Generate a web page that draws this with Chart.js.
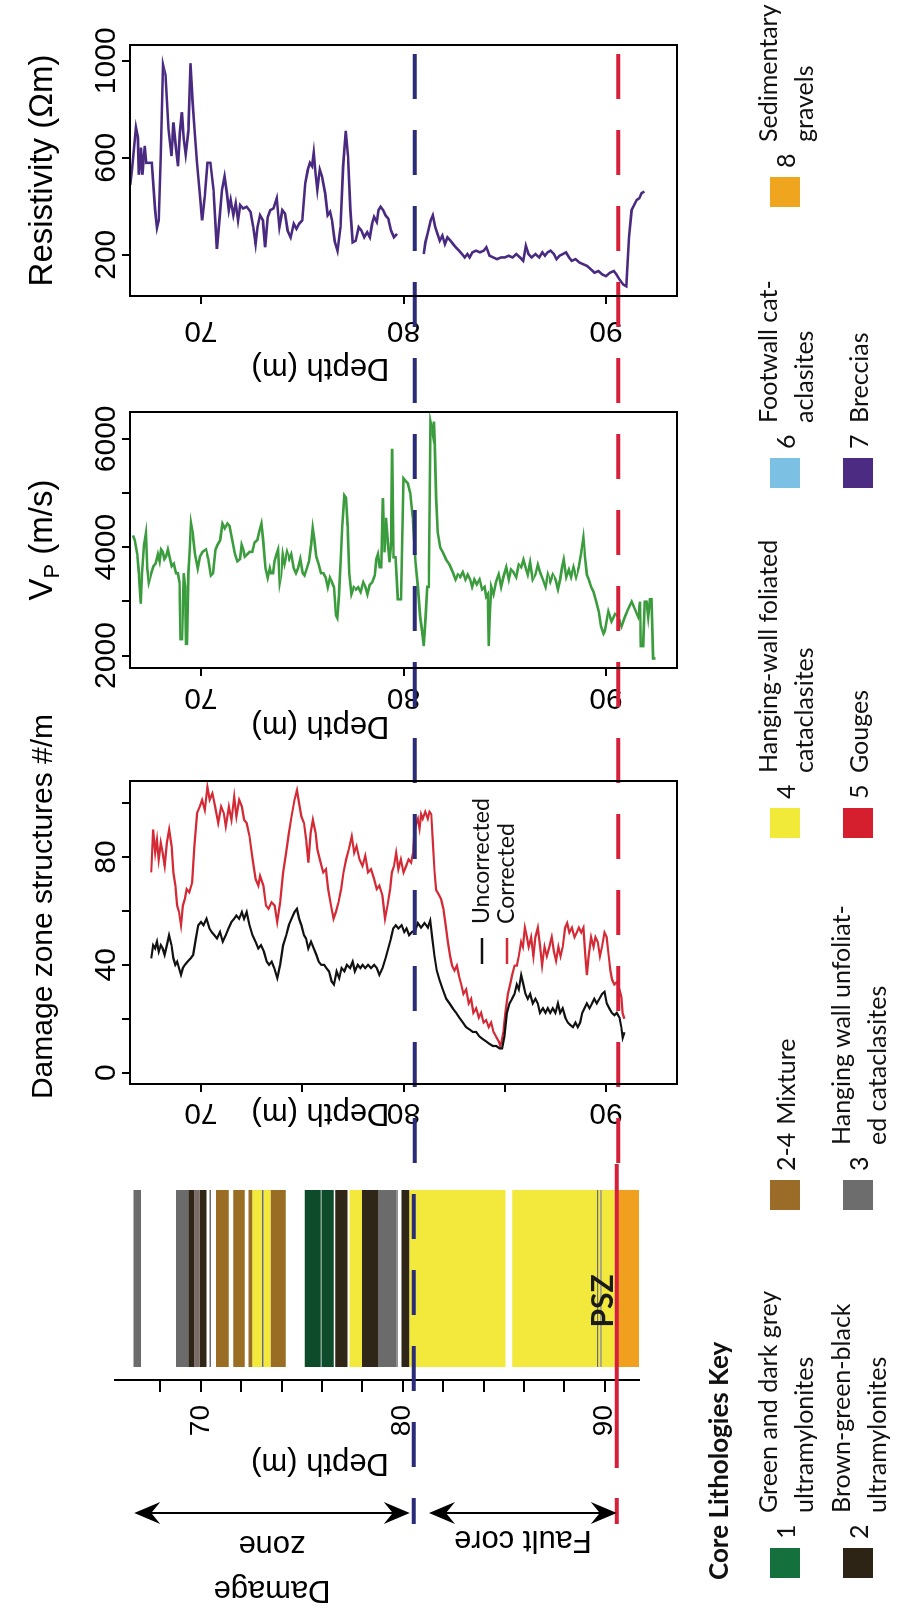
<!DOCTYPE html>
<html>
<head>
<meta charset="utf-8">
<title>Core logs</title>
<script src="https://cdn.jsdelivr.net/npm/chart.js@4.4.1/dist/chart.umd.min.js"></script>
<style>
    html, body { margin: 0; padding: 0; background: #fff; }
    body { width: 897px; height: 1619px; overflow: hidden; position: relative; }
    /* the figure is laid out as a landscape log plot and turned a quarter to the left */
    #fig { position: absolute; left: 0; top: 0; width: 1619px; height: 897px;
           transform-origin: 0 0; transform: translate(0, 1619px) rotate(-90deg); }
    #fig canvas { position: absolute; top: 0; }
    .key-title { position: absolute; font: bold 26px Lato, 'Noto Sans', sans-serif; color: #111; white-space: nowrap; }
    .key { position: absolute; height: 30px; display: flex; align-items: center;
           font: 25px Lato, 'Noto Sans', sans-serif; color: #111; white-space: nowrap; }
    .key .sw { width: 30px; height: 30px; flex: none; }
    .key .code { margin-left: 9px; min-width: 18px; }
    .key .txt { margin-left: 8px; line-height: 36px; }
</style>
</head>
<body>
<div id="fig"></div>
<script>
const boundaryDepths = [80.55, 90.6];
const boundaryColors = ['#2a2c78', '#d6203a'];

const resTicks = [200, 600, 1000];
const resLabels = [200, 600, 1000];
const vpTicks = [2000, 3000, 4000, 5000, 6000];
const vpLabels = [2000, 4000, 6000];
const dzTicks = [0, 20, 40, 60, 80, 100];
const dzLabels = [0, 40, 80];
const depthTicks = [70, 80, 90];
const dzDepthTicks = [70, 75, 80, 85, 90];
const coreDepthTicks = [68, 70, 72, 74, 76, 78, 80, 82, 84, 86, 88, 90];
const depthLabels = [70, 80, 90];

const resDepth = [66.51, 66.60, 66.79, 66.89, 66.94, 67.04, 67.11, 67.23, 67.30, 67.45,
    67.58, 67.74, 67.83, 67.92, 68.02, 68.13, 68.25, 68.40, 68.55, 68.64,
    68.74, 68.87, 68.96, 69.06, 69.15, 69.25, 69.38, 69.49, 69.58, 69.68,
    69.81, 69.94, 70.06, 70.19, 70.32, 70.47, 70.62, 70.79, 70.91, 71.04,
    71.17, 71.28, 71.38, 71.47, 71.60, 71.72, 71.83, 71.94, 72.08, 72.26,
    72.45, 72.58, 72.70, 72.79, 72.92, 73.06, 73.17, 73.30, 73.43, 73.58,
    73.74, 73.87, 74.02, 74.15, 74.28, 74.43, 74.58, 74.72, 74.85, 75.00,
    75.15, 75.28, 75.38, 75.49, 75.57, 75.66, 75.75, 75.87, 75.98, 76.13,
    76.26, 76.38, 76.47, 76.60, 76.74, 76.89, 77.02, 77.15, 77.26, 77.38,
    77.49, 77.64, 77.79, 77.92, 78.06, 78.21, 78.34, 78.45, 78.55, 78.68,
    78.77, 78.87, 79.00, 79.11, 79.25, 79.38, 79.53, 79.68, 80.30,
    81.00, 81.08, 81.19, 81.34, 81.45, 81.57, 81.68, 81.79, 81.92, 82.04,
    82.17, 82.32, 82.45, 82.58, 82.74, 82.89, 83.02, 83.15, 83.26, 83.40,
    83.58, 83.77, 83.96, 84.09, 84.25, 84.43, 84.62, 84.81, 85.00, 85.19,
    85.38, 85.57, 85.75, 85.91, 86.04, 86.17, 86.32, 86.51, 86.70, 86.85,
    86.98, 87.11, 87.26, 87.42, 87.55, 87.70, 87.87, 88.02, 88.17, 88.30,
    88.49, 88.68, 88.87, 89.06, 89.25, 89.43, 89.62, 89.81, 90.00, 90.19,
    90.38, 90.51, 90.66, 90.85, 91.00, 91.13, 91.26, 91.38, 91.51, 91.64,
    91.75, 91.89];
const resOhm = [488, 551, 725, 684, 530, 642, 530, 649, 579, 579,
    579, 384, 311, 342, 607, 983, 941, 718, 607, 746,
    663, 565, 704, 788, 677, 614, 711, 990, 844, 718,
    579, 454, 342, 440, 579, 579, 468, 224, 342, 468,
    523, 454, 384, 426, 363, 412, 342, 405, 391, 398,
    377, 314, 244, 314, 363, 342, 231, 356, 384, 391,
    433, 314, 384, 370, 300, 272, 328, 307, 328, 342,
    495, 551, 579, 565, 621, 537, 468, 551, 523, 454,
    363, 377, 342, 258, 217, 314, 565, 711, 607, 384,
    251, 258, 314, 300, 272, 293, 272, 328, 356, 335,
    384, 398, 384, 363, 349, 300, 272, 286, null,
    203, 251, 286, 342, 363, 314, 286, 258, 279, 244,
    272, 258, 244, 231, 217, 203, 189, 203, 189, 210,
    217, 210, 217, 231, 196, 189, 182, 189, 189, 196,
    189, 203, 189, 175, 237, 203, 189, 203, 189, 210,
    196, 210, 217, 203, 182, 196, 203, 210, 189, 175,
    182, 168, 161, 154, 140, 126, 133, 119, 112, 126,
    133, 119, 98, 77, 70, 272, 384, 405, 426, 433,
    454, 461];

const vpDepth = [66.65, 66.73, 66.86, 66.94, 67.03, 67.09, 67.19, 67.29, 67.35, 67.43,
    67.55, 67.66, 67.76, 67.88, 67.96, 68.04, 68.12, 68.20, 68.28, 68.37,
    68.45, 68.56, 68.66, 68.77, 68.86, 68.94, 68.99, 69.07, 69.15, 69.22,
    69.26, 69.31, 69.38, 69.44, 69.51, 69.59, 69.71, 69.84, 69.95, 70.08,
    70.25, 70.36, 70.49, 70.60, 70.72, 70.82, 70.95, 71.06, 71.18, 71.31,
    71.41, 71.55, 71.68, 71.80, 71.93, 72.01, 72.09, 72.17, 72.29, 72.40,
    72.53, 72.65, 72.78, 72.89, 72.99, 73.07, 73.19, 73.30, 73.40, 73.46,
    73.56, 73.63, 73.73, 73.81, 73.89, 73.95, 74.04, 74.13, 74.25, 74.36,
    74.46, 74.58, 74.69, 74.79, 74.90, 75.02, 75.11, 75.23, 75.34, 75.44,
    75.52, 75.60, 75.69, 75.80, 75.93, 76.05, 76.16, 76.26, 76.37, 76.47,
    76.57, 76.67, 76.73, 76.81, 76.90, 76.98, 77.08, 77.16, 77.24, 77.32,
    77.43, 77.55, 77.65, 77.76, 77.88, 78.01, 78.12, 78.22, 78.33, 78.45,
    78.58, 78.66, 78.74, 78.82, 78.90, 78.98, 79.06, 79.14, 79.23, 79.31,
    79.39, 79.44, 79.51, 79.61, 79.72, 79.88, 80.00, 80.10, 80.21, 80.33,
    80.46, 80.59, 80.71, 80.82, 80.92, 81.00, 81.09, 81.17, 81.25, 81.28,
    81.33, 81.41, 81.45, 81.50, 81.55, 81.61, 81.69, 81.81, 81.94, 82.11,
    82.27, 82.43, 82.57, 82.68, 82.80, 82.93, 83.06, 83.17, 83.29, 83.39,
    83.50, 83.62, 83.75, 83.88, 84.00, 84.08, 84.16, 84.21, 84.26, 84.33,
    84.44, 84.57, 84.70, 84.82, 84.93, 85.07, 85.20, 85.31, 85.43, 85.56,
    85.69, 85.81, 85.92, 86.02, 86.13, 86.25, 86.38, 86.51, 86.63, 86.74,
    86.88, 87.01, 87.12, 87.24, 87.37, 87.50, 87.62, 87.73, 87.83, 87.91,
    88.03, 88.16, 88.27, 88.39, 88.52, 88.65, 88.77, 88.88, 88.96, 89.05,
    89.14, 89.26, 89.38, 89.51, 89.64, 89.75, 89.87, 89.94, 90.11, 90.27,
    90.44, 90.60, 90.76, 90.93, 91.09, 91.26, 91.42, 91.58, 91.67, 91.71,
    91.83, 91.91, 92.00, 92.08, 92.16, 92.24, 92.32, 92.44];
const vpSpeed = [4217, 4130, 3870, 3520, 2956, 3520, 4043, 4260, 3610, 3350,
    3520, 3650, 3695, 3870, 3740, 3956, 3913, 3780, 3826, 3956,
    3826, 3650, 3695, 3520, 3520, 3350, 2303, 2303, 3520, 3260,
    2216, 2216, 3520, 3870, 4435, 4260, 3870, 3610, 3826, 3913,
    3956, 3780, 3478, 3520, 3956, 4043, 4130, 4435, 4348, 4435,
    4391, 4130, 3870, 3740, 3780, 4043, 3956, 3826, 3870, 3913,
    3913, 4087, 4130, 4304, 4435, 4130, 3610, 3435, 3610, 3520,
    3520, 3740, 3870, 3956, 3350, 3478, 3870, 3695, 3913, 3780,
    3870, 3610, 3520, 3610, 3780, 3520, 3478, 3610, 3740, 4043,
    4348, 4130, 3826, 3695, 3520, 3520, 3435, 3260, 3435, 3350,
    3260, 2740, 2695, 3086, 3780, 4391, 4957, 4913, 4391, 3520,
    3130, 3260, 3217, 3260, 3173, 3350, 3260, 3130, 3304, 3350,
    3478, 3780, 3870, 3631, 3631, 4906, 3904, 4542, 4087, 3722,
    4087, 5817, 3813, 3813, 3039, 3039, 5270, 5225, 5179, 4997,
    4542, 3722, 3267, 2720, 2447, 2174, 2720, 3267, 3267, 4542,
    6318, 6181, 6090, 6318, 5817, 4906, 4269, 3995, 3904, 3768,
    3677, 3540, 3404, 3495, 3449, 3540, 3404, 3495, 3404, 3267,
    3404, 3313, 3404, 3222, 3267, 3085, 3130, 2174, 2720, 3267,
    3130, 3358, 3495, 3267, 3449, 3631, 3404, 3586, 3540, 3449,
    3677, 3631, 3768, 3631, 3495, 3722, 3404, 3495, 3677, 3540,
    3404, 3267, 3495, 3358, 3495, 3404, 3222, 3404, 3631, 3768,
    3449, 3586, 3449, 3631, 3449, 3631, 3904, 4178, 3813, 3495,
    3404, 3267, 3176, 2994, 2812, 2539, 2402, 2447, 2812, 2630,
    2766, 2720, 2539, 2720, 2857, 2994, 2857, 2720, 2994, 2174,
    2174, 2994, 2994, 2720, 3039, 3039, 1946, 1946];

const corrDepth = [67.55, 67.64, 67.74, 67.83, 67.92, 68.02, 68.11, 68.21, 68.32, 68.43,
    68.55, 68.64, 68.74, 68.83, 68.92, 69.02, 69.11, 69.21, 69.30, 69.43,
    69.57, 69.68, 69.81, 69.94, 70.06, 70.19, 70.32, 70.43, 70.57, 70.70,
    70.85, 71.00, 71.13, 71.23, 71.38, 71.51, 71.64, 71.75, 71.89, 72.02,
    72.13, 72.26, 72.40, 72.55, 72.70, 72.83, 72.92, 73.08, 73.21, 73.34,
    73.49, 73.64, 73.77, 73.91, 74.06, 74.21, 74.34, 74.47, 74.62, 74.74,
    74.85, 74.96, 75.09, 75.19, 75.30, 75.42, 75.53, 75.66, 75.75, 75.91,
    76.04, 76.17, 76.28, 76.42, 76.55, 76.66, 76.79, 76.92, 77.04, 77.17,
    77.30, 77.45, 77.57, 77.68, 77.83, 77.98, 78.11, 78.25, 78.40, 78.55,
    78.68, 78.81, 78.96, 79.09, 79.21, 79.34, 79.43, 79.53, 79.64, 79.75,
    79.87, 80.00, 80.13, 80.25, 80.38, 80.47,
    80.54, 80.63, 80.71, 80.79, 80.87, 80.95, 81.07, 81.20, 81.28, 81.37,
    81.45, 81.53, 81.61, 81.74, 81.86, 81.97, 82.07, 82.19, 82.30, 82.40,
    82.52, 82.63, 82.73, 82.85, 82.96, 83.09, 83.22, 83.34, 83.45, 83.59,
    83.72, 83.83, 83.95, 84.08, 84.21, 84.33, 84.44, 84.57, 84.70, 84.77,
    84.84, 84.93, 85.03, 85.15, 85.26, 85.36, 85.48, 85.59, 85.69, 85.81,
    85.89, 85.99, 86.09, 86.18, 86.30, 86.41, 86.51, 86.63, 86.74, 86.84,
    86.96, 87.07, 87.20, 87.32, 87.42, 87.53, 87.65, 87.75, 87.86, 87.98,
    88.08, 88.19, 88.31, 88.44, 88.55, 88.65, 88.77, 88.88, 88.98, 89.05,
    89.14, 89.26, 89.38, 89.47, 89.59, 89.70, 89.80, 89.92, 90.03, 90.13,
    90.21, 90.30, 90.41, 90.53, 90.66, 90.75, 90.82, 90.90];
const corrCount = [74.3, 90.2, 81.6, 86.5, 79.1, 85.3, 81.6, 76.7, 85.3, 90.2,
    84.0, 74.3, 69.4, 62.0, 59.6, 54.7, 62.0, 64.5, 68.1, 66.9,
    70.6, 84.0, 96.3, 98.7, 101.2, 97.5, 106.1, 101.2, 103.6, 98.7,
    92.6, 98.7, 96.3, 91.4, 98.7, 93.8, 102.4, 95.0, 101.2, 98.7,
    93.8, 92.6, 87.7, 79.1, 71.8, 69.4, 73.0, 69.4, 62.0, 60.8,
    63.2, 62.0, 55.9, 63.2, 74.3, 81.6, 88.9, 95.0, 101.2, 104.8,
    99.9, 95.0, 92.6, 86.5, 77.9, 88.9, 93.8, 88.9, 82.8, 77.9,
    74.3, 75.5, 68.1, 62.0, 57.1, 59.6, 63.2, 68.1, 74.3, 79.1,
    82.8, 87.7, 81.6, 84.0, 79.1, 76.7, 80.4, 74.3, 75.5, 71.8,
    68.1, 69.4, 65.7, 57.1, 62.0, 68.1, 74.3, 76.7, 81.6, 75.5,
    79.1, 74.3, 76.7, 79.1, 77.9, 81.6,
    88.9, 92.4, 94.2, 90.6, 95.9, 94.2, 96.8, 94.2, 96.8, 95.9,
    85.4, 74.8, 67.8, 66.1, 64.3, 60.8, 55.5, 48.5, 43.2, 39.7,
    37.9, 39.7, 36.2, 32.7, 29.2, 30.9, 25.7, 27.4, 22.2, 23.9,
    20.4, 22.2, 18.6, 19.5, 16.9, 18.6, 15.1, 13.4, 11.6, 9.9,
    11.6, 15.1, 22.2, 29.2, 32.7, 36.2, 39.7, 39.7, 43.2, 48.5,
    46.7, 53.8, 50.3, 46.7, 50.3, 43.2, 50.3, 53.8, 46.7, 39.7,
    46.7, 43.2, 46.7, 50.3, 45.0, 41.5, 46.7, 43.2, 46.7, 53.8,
    55.5, 52.0, 53.8, 50.3, 52.0, 53.8, 52.0, 53.8, 43.2, 36.2,
    43.2, 50.3, 46.7, 50.3, 48.5, 43.2, 46.7, 52.0, 50.3, 43.2,
    37.9, 34.4, 32.7, 33.6, 30.9, 28.0, 22.0, 20.0];

const rawDepth = [67.55, 67.64, 67.74, 67.83, 67.92, 68.02, 68.11, 68.21, 68.32, 68.43,
    68.55, 68.64, 68.74, 68.83, 68.92, 69.02, 69.11, 69.21, 69.34, 69.49,
    69.62, 69.75, 69.87, 70.00, 70.13, 70.28, 70.42, 70.53, 70.66, 70.79,
    70.94, 71.08, 71.23, 71.36, 71.51, 71.64, 71.75, 71.89, 72.02, 72.13,
    72.26, 72.40, 72.55, 72.70, 72.83, 72.96, 73.11, 73.25, 73.36, 73.49,
    73.62, 73.77, 73.91, 74.06, 74.21, 74.34, 74.47, 74.62, 74.74, 74.85,
    74.96, 75.09, 75.19, 75.30, 75.43, 75.57, 75.70, 75.81, 75.94, 76.08,
    76.19, 76.32, 76.45, 76.57, 76.70, 76.83, 76.94, 77.08, 77.21, 77.36,
    77.49, 77.60, 77.74, 77.87, 77.98, 78.11, 78.25, 78.40, 78.55, 78.68,
    78.81, 78.96, 79.11, 79.25, 79.38, 79.49, 79.62, 79.75, 79.91, 80.04,
    80.15, 80.28, 80.42,
    80.59, 80.71, 80.87, 81.04, 81.20, 81.32, 81.41, 81.53, 81.64, 81.78,
    81.94, 82.11, 82.27, 82.43, 82.60, 82.76, 82.93, 83.09, 83.26, 83.42,
    83.59, 83.75, 83.91, 84.08, 84.24, 84.41, 84.57, 84.74, 84.87, 84.98,
    85.10, 85.23, 85.36, 85.48, 85.59, 85.69, 85.81, 85.92, 86.02, 86.13,
    86.25, 86.38, 86.51, 86.63, 86.74, 86.88, 87.01, 87.12, 87.24, 87.37,
    87.50, 87.62, 87.73, 87.86, 87.99, 88.11, 88.22, 88.36, 88.49, 88.60,
    88.72, 88.82, 88.93, 89.05, 89.18, 89.31, 89.42, 89.54, 89.67, 89.80,
    89.92, 90.03, 90.16, 90.28, 90.41, 90.53, 90.66, 90.75, 90.82, 90.90];
const rawCount = [42.4, 47.3, 46.1, 48.6, 44.9, 47.3, 46.1, 43.7, 47.3, 51.0,
    47.3, 42.4, 40.0, 41.2, 38.8, 36.3, 38.8, 40.0, 41.2, 42.4,
    43.7, 49.8, 54.7, 55.9, 54.7, 57.1, 53.5, 52.2, 51.0, 49.8,
    52.2, 48.6, 51.0, 53.5, 55.9, 57.1, 58.3, 57.1, 59.6, 57.1,
    59.6, 54.7, 51.0, 48.6, 46.1, 47.3, 44.9, 41.2, 40.0, 41.2,
    38.8, 35.1, 40.0, 47.3, 51.0, 54.7, 57.1, 59.6, 60.8, 57.1,
    54.7, 51.0, 49.8, 46.1, 48.6, 46.1, 43.7, 41.2, 40.0, 40.0,
    38.8, 37.6, 33.9, 32.7, 37.6, 35.1, 38.8, 37.6, 40.0, 38.8,
    41.2, 37.6, 40.0, 38.8, 40.0, 38.8, 40.0, 38.8, 40.0, 38.8,
    36.3, 38.8, 42.4, 46.1, 49.8, 53.5, 54.7, 53.5, 54.7, 52.2,
    53.5, 51.0, 52.2,
    52.9, 55.5, 53.8, 55.5, 53.8, 56.4, 50.3, 43.2, 37.9, 34.4,
    30.9, 27.4, 25.7, 23.9, 22.2, 20.4, 18.6, 16.9, 16.0, 15.1,
    15.1, 13.4, 12.5, 11.6, 10.7, 9.9, 9.9, 9.0, 9.0, 13.4,
    22.2, 25.7, 27.4, 29.2, 32.7, 30.9, 36.2, 32.7, 29.2, 27.4,
    29.2, 25.7, 27.4, 25.7, 22.2, 23.9, 22.2, 23.9, 22.2, 23.9,
    22.2, 25.7, 22.2, 23.9, 20.4, 18.6, 17.8, 16.9, 18.6, 16.9,
    18.6, 22.2, 23.9, 25.7, 23.9, 25.7, 27.4, 25.7, 27.4, 29.2,
    30.0, 25.7, 23.9, 22.2, 21.3, 22.2, 20.4, 17.0, 13.0, 15.0];

const coreTop = [66.66, 68.77, 69.38, 69.68, 69.94, 70.43, 70.75, 71.60, 72.36, 72.55,
    73.02, 73.10, 73.45, 75.15, 75.98, 76.66, 77.36, 77.98, 78.77, 79.68,
    79.94, 80.32, 85.42, 89.62, 89.68, 89.78, 89.84, 90.50, 90.64];
const coreBase = [67.04, 69.38, 69.68, 69.94, 70.28, 70.50, 71.38, 72.17, 72.55, 73.02,
    73.10, 73.45, 74.21, 75.94, 76.58, 77.26, 77.98, 78.77, 79.66, 79.75,
    80.32, 85.09, 89.62, 89.68, 89.78, 89.84, 90.50, 90.64, 91.75];
const coreKind = ['3', '3', '2', 'm', '2', '3', '2-4', '2-4', '2-4', '4',
    '3', '4', '2-4', '1', '1', '2', '4', '2', '3', '3',
    '2', '4', '4', '3', '4', '3', '4', '5', '8'];
const coreColors = { '1': '#0e4b2b', '2': '#2f2618', '2-4': '#9a6d25', '3': '#6b6b6b',
    '4': '#f3e93d', '5': '#d52030', '8': '#f0a01e', 'm': '#7b6c66' };

const zoneNames = [['Damage', 'zone'], ['Fault core']];
const zoneFrom = [66.7, 81.3];
const zoneTo = [80.35, 90.6];

const keyCodes = ['1', '2', '2-4', '3', '4', '5', '6', '7', '8'];
const keyNames = ['Green and dark grey\nultramylonites', 'Brown-green-black\nultramylonites',
    'Mixture', 'Hanging wall unfoliat-\ned cataclasites', 'Hanging-wall foliated\ncataclasites',
    'Gouges', 'Footwall cat-\naclasites', 'Breccias', 'Sedimentary\ngravels'];
const keyColors = ['#14703d', '#2e2416', '#9a6c27', '#6d6d6d', '#f2ea38', '#d51f2f', '#7cc0e4', '#4b2c82', '#f0a51f'];

// layout of the key, in the unrotated frame
const keyLeft = [41, 41, 409, 409, 781, 781, 1131, 1131, 1412];
const keyTop = [770, 843, 770, 843, 770, 843, 770, 843, 770];

const FONT = "'Liberation Sans', Arial, sans-serif";
const KEYFONT = "Lato, 'Noto Sans', sans-serif";
Chart.defaults.font.family = FONT;
Chart.defaults.color = '#000';

const fig = document.getElementById('fig');

function addCanvas(left, width) {
    const c = document.createElement('canvas');
    c.width = width;
    c.height = 897;
    c.style.left = left + 'px';
    c.style.width = width + 'px';
    c.style.height = '897px';
    fig.appendChild(c);
    return c;
}

const framePlugin = {
    id: 'frame',
    afterDraw(chart) {
        const { ctx, chartArea: a } = chart;
        ctx.save();
        ctx.strokeStyle = '#000';
        ctx.lineWidth = 2;
        ctx.strokeRect(a.left, a.top, a.right - a.left, a.bottom - a.top);
        ctx.restore();
    },
};

function guidesPlugin(canvasLeft, from, to, redSolidFrom) {
    return {
        id: 'guides',
        afterDatasetsDraw(chart) {
            const ctx = chart.ctx;
            const end = to === null ? chart.chartArea.right + 5 : to;
            boundaryDepths.forEach((d, i) => {
                const y = chart.scales.y.getPixelForValue(d);
                ctx.save();
                ctx.strokeStyle = boundaryColors[i];
                ctx.lineWidth = 4;
                const dashTo = i === 1 && redSolidFrom !== undefined ? redSolidFrom : end;
                ctx.setLineDash([45, 31]);
                ctx.lineDashOffset = canvasLeft + from;
                ctx.beginPath();
                ctx.moveTo(from, y);
                ctx.lineTo(dashTo, y);
                ctx.stroke();
                if (dashTo < end) {
                    ctx.setLineDash([]);
                    ctx.beginPath();
                    ctx.moveTo(dashTo, y);
                    ctx.lineTo(end, y);
                    ctx.stroke();
                }
                ctx.restore();
            });
        },
    };
}

function depthTitlePlugin(x) {
    return {
        id: 'depthTitle',
        afterDraw(chart) {
            const ctx = chart.ctx;
            ctx.save();
            ctx.translate(x, chart.scales.y.getPixelForValue(75.9));
            ctx.rotate(-Math.PI / 2);
            ctx.font = '31px ' + FONT;
            ctx.textAlign = 'center';
            ctx.textBaseline = 'middle';
            ctx.fillStyle = '#000';
            ctx.fillText('Depth (m)', 0, 0);
            ctx.restore();
        },
    };
}

// value-axis title, drawn by hand so it is never squeezed to the plot width
function titlePlugin(parts, shift) {
    return {
        id: 'panelTitle',
        afterDraw(chart) {
            const { ctx, chartArea: a } = chart;
            ctx.save();
            ctx.fillStyle = '#000';
            ctx.textBaseline = 'alphabetic';
            const widths = parts.map((p) => {
                ctx.font = p.size + 'px ' + FONT;
                return ctx.measureText(p.text).width;
            });
            let x = (a.left + a.right) / 2 + (shift || 0) - widths.reduce((s, w) => s + w, 0) / 2;
            parts.forEach((p, i) => {
                ctx.font = p.size + 'px ' + FONT;
                ctx.fillText(p.text, x, 52 + (p.dy || 0));
                x += widths[i];
            });
            ctx.restore();
        },
    };
}

function logChart(opts) {
    const canvas = addCanvas(opts.left, opts.width);
    return new Chart(canvas, {
        type: 'scatter',
        data: {
            datasets: opts.series.map((s) => ({
                data: s.depth.map((d, i) => ({ x: s.value[i], y: d })),
                showLine: true,
                spanGaps: false,
                borderColor: s.color,
                borderWidth: s.width,
                pointRadius: 0,
                tension: 0,
            })),
        },
        options: {
            responsive: false,
            animation: false,
            events: [],
            layout: { padding: { left: 0, top: 0, right: opts.padRight, bottom: 897 - 677 } },
            plugins: { legend: { display: false }, tooltip: { enabled: false } },
            scales: {
                x: {
                    type: 'linear',
                    position: 'top',
                    min: opts.range[0],
                    max: opts.range[1],
                    afterBuildTicks: (s) => { s.ticks = opts.ticks.map((v) => ({ value: v })); },
                    afterFit: (s) => { s.height = 130; },
                    ticks: {
                        autoSkip: false,
                        maxRotation: 0,
                        padding: 0,
                        font: { size: 30, lineHeight: 1 },
                        callback: (v) => (opts.labels.includes(v) ? String(v) : ''),
                    },
                    grid: { drawOnChartArea: false, tickLength: 8, color: '#000', lineWidth: 2 },
                    border: { display: false },
                },
                y: {
                    type: 'linear',
                    position: 'left',
                    reverse: true,
                    min: 66.5,
                    max: 93.5,
                    afterBuildTicks: (s) => { s.ticks = opts.depthTicks.map((v) => ({ value: v })); },
                    afterFit: (s) => { s.width = opts.axisWidth; },
                    ticks: {
                        autoSkip: false,
                        minRotation: 90,
                        maxRotation: 90,
                        crossAlign: 'center',
                        padding: opts.labelPad,
                        font: { size: 30 },
                        callback: (v) => (depthLabels.includes(v) ? String(v) : ''),
                    },
                    grid: { drawOnChartArea: false, tickLength: 8, color: '#000', lineWidth: 2 },
                    border: { display: false },
                },
            },
        },
        plugins: [framePlugin, guidesPlugin(opts.left, 0, opts.guideTo), depthTitlePlugin(opts.depthTitleX),
            titlePlugin(opts.title, opts.titleShift)].concat(opts.extra || []),
    });
}

// resistivity
logChart({
    left: 1230, width: 389, axisWidth: 93, padRight: 45, labelPad: 10,
    range: [30, 1065], ticks: resTicks, labels: resLabels,
    title: [{ text: 'Resistivity (\u03A9m)', size: 33 }],
    depthTicks: depthTicks, depthTitleX: 21, guideTo: null,
    series: [{ depth: resDepth, value: resOhm, color: '#4a2a80', width: 2.6 }],
});

// p-wave velocity
logChart({
    left: 860, width: 370, axisWidth: 91, padRight: 23, labelPad: 5,
    range: [1770, 6495], ticks: vpTicks, labels: vpLabels,
    title: [{ text: 'V', size: 33 }, { text: 'P', size: 22, dy: 7 }, { text: ' (m/s)', size: 33 }],
    depthTicks: depthTicks, depthTitleX: 33, guideTo: 370,
    series: [{ depth: vpDepth, value: vpSpeed, color: '#3a9c3c', width: 2.6 }],
});

// damage zone structures; the canvas runs on past the plot so the long title fits
const dzKey = {
    id: 'dzKey',
    afterDraw(chart) {
        const ctx = chart.ctx;
        const rows = [['Uncorrected', '#111', 482], ['Corrected', '#d42a35', 507]];
        ctx.save();
        ctx.font = '23px ' + KEYFONT;
        ctx.textBaseline = 'middle';
        rows.forEach(([label, color, y]) => {
            ctx.strokeStyle = color;
            ctx.lineWidth = 2.5;
            ctx.beginPath();
            ctx.moveTo(200, y);
            ctx.lineTo(226, y);
            ctx.stroke();
            ctx.fillStyle = '#111';
            ctx.fillText(label, 240, y);
        });
        ctx.restore();
    },
};
logChart({
    left: 455, width: 480, axisWidth: 80, padRight: 97, labelPad: 4,
    range: [-4.2, 108.2], ticks: dzTicks, labels: dzLabels,
    title: [{ text: 'Damage zone structures #/m', size: 30 }], titleShift: 26,
    depthTicks: dzDepthTicks, depthTitleX: 51, guideTo: 405,
    series: [
        { depth: rawDepth, value: rawCount, color: '#111', width: 2.2 },
        { depth: corrDepth, value: corrCount, color: '#d42a35', width: 2.2 },
    ],
    extra: [dzKey],
});

// core column
const coreExtras = {
    id: 'coreExtras',
    afterDraw(chart) {
        const ctx = chart.ctx;
        const y = chart.scales.y;
        ctx.save();
        ctx.fillStyle = '#000';
        ctx.strokeStyle = '#000';
        ctx.lineWidth = 2;
        const head = (x, yy, dir) => {
            ctx.beginPath();
            ctx.moveTo(x, yy);
            ctx.lineTo(x - 11, yy - dir * 26);
            ctx.lineTo(x, yy - dir * 17);
            ctx.lineTo(x + 11, yy - dir * 26);
            ctx.closePath();
            ctx.fill();
        };
        zoneNames.forEach((lines, i) => {
            const y1 = y.getPixelForValue(zoneFrom[i]);
            const y2 = y.getPixelForValue(zoneTo[i]);
            ctx.beginPath();
            ctx.moveTo(106, y1 + 10);
            ctx.lineTo(106, y2 - 10);
            ctx.stroke();
            head(106, y1, -1);
            head(106, y2, 1);
            const mid = (y1 + y2) / 2;
            ctx.font = '31px ' + FONT;
            ctx.textAlign = 'center';
            ctx.textBaseline = 'middle';
            lines.forEach((t, k) => {
                const x = lines.length === 1 ? 79 : 29 + k * 45;
                ctx.save();
                ctx.translate(x, mid);
                ctx.rotate(-Math.PI / 2);
                ctx.fillText(t, 0, 0);
                ctx.restore();
            });
        });
        ctx.font = 'bold 30px ' + KEYFONT;
        ctx.textAlign = 'center';
        ctx.textBaseline = 'middle';
        ctx.fillStyle = '#1a1a1a';
        ctx.fillText('PSZ', 318, y.getPixelForValue(89.95));
        ctx.restore();
    },
};

new Chart(addCanvas(0, 455), {
    type: 'bar',
    data: {
        labels: ['core'],
        datasets: coreTop.map((t, i) => ({
            data: [[t, coreBase[i]]],
            backgroundColor: coreColors[coreKind[i]],
            borderWidth: 0,
            grouped: false,
            barPercentage: 0.872,
            categoryPercentage: 1,
        })),
    },
    options: {
        responsive: false,
        animation: false,
        events: [],
        layout: { padding: { left: 0, top: 115, right: 13, bottom: 897 - 639 } },
        plugins: { legend: { display: false }, tooltip: { enabled: false } },
        scales: {
            x: { display: false },
            y: {
                type: 'linear',
                reverse: true,
                min: 65.75,
                max: 91.7,
                afterBuildTicks: (s) => { s.ticks = coreDepthTicks.map((v) => ({ value: v })); },
                afterFit: (s) => { s.width = 239; },
                ticks: {
                    autoSkip: false,
                    padding: 13,
                    font: { size: 28 },
                    callback: (v) => (depthLabels.includes(v) ? String(v) : ''),
                },
                grid: { drawOnChartArea: false, tickLength: 12, color: '#000', lineWidth: 2 },
                border: { display: true, color: '#000', width: 2 },
            },
        },
    },
    plugins: [guidesPlugin(0, 95, 455, 151), depthTitlePlugin(156), coreExtras],
});

// lithology key
const keyTitle = document.createElement('div');
keyTitle.className = 'key-title';
keyTitle.textContent = 'Core Lithologies Key';
keyTitle.style.left = '39px';
keyTitle.style.top = '702px';
fig.appendChild(keyTitle);

keyCodes.forEach((code, i) => {
    const item = document.createElement('div');
    item.className = 'key';
    item.style.left = keyLeft[i] + 'px';
    item.style.top = keyTop[i] + 'px';
    const sw = document.createElement('span');
    sw.className = 'sw';
    sw.style.background = keyColors[i];
    const num = document.createElement('span');
    num.className = 'code';
    num.textContent = code;
    const txt = document.createElement('span');
    txt.className = 'txt';
    txt.innerHTML = keyNames[i].split('\n').join('<br>');
    item.append(sw, num, txt);
    fig.appendChild(item);
});
</script>
</body>
</html>
